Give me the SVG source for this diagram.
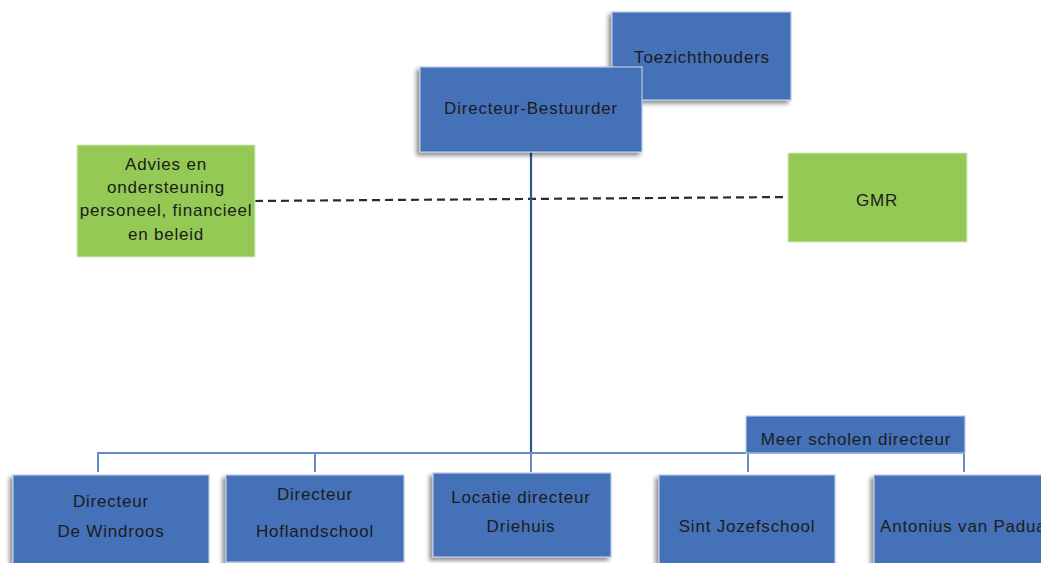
<svg xmlns="http://www.w3.org/2000/svg" width="1041" height="563" viewBox="0 0 1041 563">
<style>
.blue{fill:#4571B8;stroke:#B9CAE6;stroke-width:1.2}
.green{fill:#93C954;stroke:#D6EBC0;stroke-width:1}
.t{font-family:"Liberation Sans",Arial,sans-serif;font-size:17px;letter-spacing:0.8px;fill:#1c1c1c;text-anchor:middle}
.ln{stroke:#6A8AC4;stroke-width:2;fill:none}
</style>
<defs>
<filter id="sh" x="-20%" y="-20%" width="140%" height="150%">
<feDropShadow dx="-3" dy="3" stdDeviation="2" flood-color="#000" flood-opacity="0.45"/>
</filter>
</defs>
<g id="connectors">
<line x1="255" y1="201" x2="788" y2="197" stroke="#2b2b2b" stroke-width="2.2" stroke-dasharray="8,5"/>
<line x1="531" y1="152" x2="531" y2="454" stroke="#2F5597" stroke-width="2.2"/>
<polyline class="ln" points="98,472 98,453 964,453 964,472"/>
<line class="ln" x1="315" y1="453" x2="315" y2="472"/>
<line class="ln" x1="531" y1="453" x2="531" y2="472"/>
<line class="ln" x1="748" y1="453" x2="748" y2="472"/>
</g>
<g id="toezichthouders">
<rect class="blue" x="612" y="12" width="179" height="88" filter="url(#sh)"/>
<text class="t" x="702" y="63">Toezichthouders</text>
</g>
<g id="directeur-bestuurder">
<rect class="blue" x="420" y="67" width="222" height="85" filter="url(#sh)"/>
<text class="t" x="531" y="114">Directeur-Bestuurder</text>
</g>
<g id="advies">
<rect class="green" x="77" y="145" width="178" height="112"/>
<text class="t" x="166" y="170">Advies en</text>
<text class="t" x="166" y="193">ondersteuning</text>
<text class="t" x="166" y="216" letter-spacing="0.5">personeel, financieel</text>
<text class="t" x="166" y="240">en beleid</text>
</g>
<g id="gmr">
<rect class="green" x="788" y="153" width="179" height="89"/>
<text class="t" x="877" y="206">GMR</text>
</g>
<g id="meer-scholen">
<rect class="blue" x="746" y="416" width="219" height="37"/>
<text class="t" x="856" y="445">Meer scholen directeur</text>
</g>
<g id="windroos">
<rect class="blue" x="13" y="475" width="196" height="95" filter="url(#sh)"/>
<text class="t" x="111" y="507">Directeur</text>
<text class="t" x="111" y="537">De Windroos</text>
</g>
<g id="hoflandschool">
<rect class="blue" x="226" y="475" width="178" height="87" filter="url(#sh)"/>
<text class="t" x="315" y="500">Directeur</text>
<text class="t" x="315" y="537">Hoflandschool</text>
</g>
<g id="driehuis">
<rect class="blue" x="433" y="473" width="178" height="84" filter="url(#sh)"/>
<text class="t" x="521" y="503">Locatie directeur</text>
<text class="t" x="521" y="532">Driehuis</text>
</g>
<g id="sint-jozef">
<rect class="blue" x="659" y="475" width="176" height="95" filter="url(#sh)"/>
<text class="t" x="747" y="532">Sint Jozefschool</text>
</g>
<g id="antonius">
<rect class="blue" x="874" y="475" width="180" height="95" filter="url(#sh)"/>
<text class="t" x="880" y="532" text-anchor="start" style="text-anchor:start">Antonius van Padua</text>
</g>
</svg>
